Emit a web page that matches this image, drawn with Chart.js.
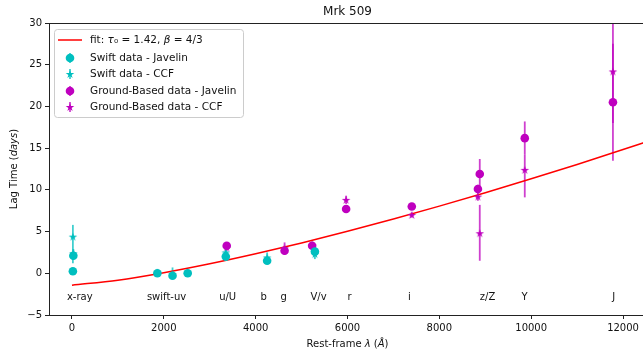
<!DOCTYPE html>
<html>
<head>
<meta charset="utf-8">
<script src="https://cdn.jsdelivr.net/npm/chart.js@4/dist/chart.umd.min.js"></script>
<style>
  html, body { margin: 0; padding: 0; overflow: hidden; background: #fff; }
  canvas { display: block; }
</style>
</head>
<body>
<canvas id="lag-chart" width="660" height="352"></canvas>
<script>
// Fit curve (lambda in Angstrom, lag in days)
const fitLambda = [0, 1000, 2000, 3000, 4000, 5000, 6000, 7000, 8000, 9000, 10000, 11000, 12000, 12500];
const fitLag = [-1.42, -0.83, 0.07, 1.14, 2.34, 3.64, 5.03, 6.5, 8.05, 9.66, 11.33, 13.05, 14.84, 15.75];

// Swift - Javelin (cyan circles)
const swJavX = [20, 30, 1860, 2190, 2520, 3350, 4250, 5290];
const swJavY = [0.25, 2.1, 0.0, -0.3, 0.0, 2.0, 1.5, 2.6];
const swJavLo = [0.3, 0.5, 0.3, 0.3, 0.3, 0.4, 0.4, 0.4];
const swJavHi = [0.3, 0.5, 0.3, 0.3, 0.3, 0.4, 0.4, 0.4];

// Swift - CCF (cyan stars)
const swCcfX = [20, 30, 1860, 2190, 2520, 3350, 4250, 5290];
const swCcfY = [4.4, 2.4, 0.1, -0.1, 0.1, 2.5, 1.9, 2.3];
const swCcfLo = [3.2, 0.5, 0.3, 0.4, 0.3, 0.5, 0.6, 0.6];
const swCcfHi = [1.4, 0.5, 0.3, 0.8, 0.3, 0.5, 0.6, 0.5];

// Ground-based - Javelin (magenta circles)
const gbJavX = [3370, 4630, 5230, 5970, 7400, 8840, 8880, 9860, 11780];
const gbJavY = [3.3, 2.7, 3.3, 7.7, 8.0, 10.1, 11.9, 16.2, 20.5];
const gbJavLo = [0.3, 0.5, 0.3, 0.3, 0.3, 0.5, 1.5, 2.0, 2.5];
const gbJavHi = [0.3, 0.5, 0.3, 0.3, 0.3, 0.5, 1.8, 2.0, 7.0];

// Ground-based - CCF (magenta stars)
const gbCcfX = [3370, 4630, 5230, 5970, 7400, 8840, 8880, 9860, 11780];
const gbCcfY = [3.1, 3.0, 3.4, 8.8, 7.0, 9.2, 4.8, 12.4, 24.2];
const gbCcfLo = [0.4, 0.7, 0.4, 0.5, 0.3, 0.5, 3.3, 3.3, 10.7];
const gbCcfHi = [0.4, 0.7, 0.4, 0.5, 0.3, 0.5, 3.4, 1.8, 9.0];

// Band names written along the bottom of the plot
const bandNames = ["x-ray", "swift-uv", "u/U", "b", "g", "V/v", "r", "i", "z/Z", "Y", "J"];
const bandX = [170, 2060, 3390, 4175, 4610, 5370, 6045, 7350, 9050, 9855, 11795];
const bandY = -2.9;

const xTicks = [0, 2000, 4000, 6000, 8000, 10000, 12000];

const CYAN = "#00bfbf";
const MAGENTA = "#bf00bf";
const CYAN_BAR = "rgba(0,191,191,0.75)";
const MAGENTA_BAR = "rgba(191,0,191,0.75)";
const FONT = '"DejaVu Sans", sans-serif';

function toPoints(xs, ys) {
  return xs.map((x, i) => ({ x, y: ys[i] }));
}

function makeStar(color) {
  const c = document.createElement("canvas");
  c.width = 12;
  c.height = 12;
  const g = c.getContext("2d");
  const R = 4.5, r = R * 0.382;
  g.beginPath();
  for (let k = 0; k < 10; k++) {
    const rad = k % 2 === 0 ? R : r;
    const a = -Math.PI / 2 + (k * Math.PI) / 5;
    const px = 6 + rad * Math.cos(a), py = 6.4 + rad * Math.sin(a);
    if (k === 0) g.moveTo(px, py); else g.lineTo(px, py);
  }
  g.closePath();
  g.fillStyle = color;
  g.fill();
  return c;
}
const cyanStar = makeStar(CYAN);
const magentaStar = makeStar(MAGENTA);

const errGroups = [
  { x: swJavX, y: swJavY, lo: swJavLo, hi: swJavHi, color: CYAN_BAR },
  { x: swCcfX, y: swCcfY, lo: swCcfLo, hi: swCcfHi, color: CYAN_BAR },
  { x: gbJavX, y: gbJavY, lo: gbJavLo, hi: gbJavHi, color: MAGENTA_BAR },
  { x: gbCcfX, y: gbCcfY, lo: gbCcfLo, hi: gbCcfHi, color: MAGENTA_BAR },
];

// draw text made of plain/italic parts, centred on (cx, cy)
function drawRich(ctx, parts, cx, cy, size) {
  let total = 0;
  parts.forEach((p) => {
    ctx.font = `${p.italic ? "italic " : ""}${size}px ${FONT}`;
    p.w = ctx.measureText(p.t).width;
    total += p.w;
  });
  let xx = cx - total / 2;
  ctx.textAlign = "left";
  ctx.textBaseline = "middle";
  parts.forEach((p) => {
    ctx.font = `${p.italic ? "italic " : ""}${size}px ${FONT}`;
    ctx.fillText(p.t, xx, cy);
    xx += p.w;
  });
}

const errorBars = {
  id: "errorBars",
  beforeDatasetsDraw(chart) {
    const { ctx, chartArea, scales } = chart;
    ctx.save();
    ctx.beginPath();
    ctx.rect(chartArea.left, chartArea.top, chartArea.right - chartArea.left, chartArea.bottom - chartArea.top);
    ctx.clip();
    ctx.lineWidth = 1.8;
    errGroups.forEach((g) => {
      ctx.strokeStyle = g.color;
      g.x.forEach((xv, i) => {
        const px = scales.x.getPixelForValue(xv);
        ctx.beginPath();
        ctx.moveTo(px, scales.y.getPixelForValue(g.y[i] - g.lo[i]));
        ctx.lineTo(px, scales.y.getPixelForValue(g.y[i] + g.hi[i]));
        ctx.stroke();
      });
    });
    ctx.restore();
  },
};

const decorations = {
  id: "decorations",
  afterDraw(chart) {
    const { ctx, chartArea, scales } = chart;
    ctx.save();
    // frame
    ctx.strokeStyle = "#222";
    ctx.lineWidth = 1;
    ctx.strokeRect(chartArea.left + 0.5, chartArea.top + 0.5, chartArea.right - chartArea.left, chartArea.bottom - chartArea.top);

    ctx.fillStyle = "#111";
    // band labels
    ctx.font = `10px ${FONT}`;
    ctx.textAlign = "center";
    ctx.textBaseline = "middle";
    bandNames.forEach((name, i) => {
      ctx.fillText(name, scales.x.getPixelForValue(bandX[i]), scales.y.getPixelForValue(bandY));
    });

    const midX = (chartArea.left + chartArea.right) / 2;
    // title
    ctx.font = `12px ${FONT}`;
    ctx.fillText("Mrk 509", midX, 12);
    // x label
    drawRich(ctx, [{ t: "Rest-frame " }, { t: "λ", italic: true }, { t: " (" }, { t: "Å", italic: true }, { t: ")" }], midX, 344, 10);
    // y label
    ctx.save();
    ctx.translate(14, (chartArea.top + chartArea.bottom) / 2);
    ctx.rotate(-Math.PI / 2);
    drawRich(ctx, [{ t: "Lag Time (" }, { t: "days", italic: true }, { t: ")" }], 0, 0, 10);
    ctx.restore();

    // legend
    const lx = 54, ly = 29, lw = 189, lh = 88;
    ctx.beginPath();
    ctx.roundRect(lx + 0.5, ly + 0.5, lw, lh, 3);
    ctx.fillStyle = "rgba(255,255,255,0.85)";
    ctx.fill();
    ctx.strokeStyle = "#cccccc";
    ctx.stroke();

    const rows = [40, 58, 74, 91, 107];
    ctx.strokeStyle = "#ff0000";
    ctx.lineWidth = 1.5;
    ctx.beginPath();
    ctx.moveTo(58, rows[0]);
    ctx.lineTo(82, rows[0]);
    ctx.stroke();

    const marks = [
      { color: CYAN, bar: CYAN_BAR, star: null },
      { color: CYAN, bar: CYAN_BAR, star: cyanStar },
      { color: MAGENTA, bar: MAGENTA_BAR, star: null },
      { color: MAGENTA, bar: MAGENTA_BAR, star: magentaStar },
    ];
    ctx.lineWidth = 1.8;
    marks.forEach((m, i) => {
      const yy = rows[i + 1];
      ctx.strokeStyle = m.bar;
      ctx.beginPath();
      ctx.moveTo(70, yy - 5);
      ctx.lineTo(70, yy + 5);
      ctx.stroke();
      if (m.star) {
        ctx.drawImage(m.star, 70 - 6, yy - 6);
      } else {
        ctx.fillStyle = m.color;
        ctx.beginPath();
        ctx.arc(70, yy, 4.3, 0, Math.PI * 2);
        ctx.fill();
      }
    });

    ctx.fillStyle = "#111";
    ctx.textAlign = "left";
    ctx.textBaseline = "middle";
    let tx = 90;
    const fitParts = [{ t: "fit: " }, { t: "τ", italic: true }, { t: "₀ = 1.42, " }, { t: "β", italic: true }, { t: " = 4/3" }];
    fitParts.forEach((p) => {
      ctx.font = `${p.italic ? "italic " : ""}10.5px ${FONT}`;
      ctx.fillText(p.t, tx, rows[0]);
      tx += ctx.measureText(p.t).width;
    });
    ctx.font = `10.5px ${FONT}`;
    ["Swift data - Javelin", "Swift data - CCF", "Ground-Based data - Javelin", "Ground-Based data - CCF"].forEach((t, i) => {
      ctx.fillText(t, 90, rows[i + 1]);
    });
    ctx.restore();
  },
};

new Chart(document.getElementById("lag-chart"), {
  type: "scatter",
  data: {
    datasets: [
      {
        label: "Swift data - Javelin",
        data: toPoints(swJavX, swJavY),
        pointStyle: "circle",
        pointRadius: 4.3,
        backgroundColor: CYAN,
        borderWidth: 0,
        order: 1,
      },
      {
        label: "Swift data - CCF",
        data: toPoints(swCcfX, swCcfY),
        pointStyle: cyanStar,
        backgroundColor: CYAN,
        order: 2,
      },
      {
        label: "Ground-Based data - Javelin",
        data: toPoints(gbJavX, gbJavY),
        pointStyle: "circle",
        pointRadius: 4.3,
        backgroundColor: MAGENTA,
        borderWidth: 0,
        order: 1,
      },
      {
        label: "Ground-Based data - CCF",
        data: toPoints(gbCcfX, gbCcfY),
        pointStyle: magentaStar,
        backgroundColor: MAGENTA,
        order: 2,
      },
      {
        type: "line",
        label: "fit",
        data: toPoints(fitLambda, fitLag),
        borderColor: "#ff0000",
        borderWidth: 1.5,
        pointRadius: 0,
        cubicInterpolationMode: "monotone",
        fill: false,
        order: 10,
      },
    ],
  },
  options: {
    responsive: false,
    animation: false,
    devicePixelRatio: 1,
    layout: { padding: { top: 23, right: 14, left: 0, bottom: 0 } },
    plugins: {
      legend: { display: false },
      title: { display: false },
      tooltip: { enabled: false },
    },
    scales: {
      x: {
        type: "linear",
        min: -500,
        max: 12500,
        afterBuildTicks: (scale) => {
          scale.ticks = xTicks.map((v) => ({ value: v }));
        },
        afterFit: (scale) => {
          scale.height = 37;
        },
        grid: { drawOnChartArea: false, drawTicks: true, tickLength: 4, color: "#222", tickColor: "#222" },
        border: { display: true, color: "#222" },
        ticks: {
          padding: 3,
          maxRotation: 0,
          color: "#111",
          font: { family: FONT, size: 10 },
          callback: (v) => String(v),
        },
      },
      y: {
        min: -5,
        max: 30,
        afterFit: (scale) => {
          scale.width = 49;
        },
        grid: { drawOnChartArea: false, drawTicks: true, tickLength: 4, color: "#222", tickColor: "#222" },
        border: { display: true, color: "#222" },
        ticks: {
          stepSize: 5,
          padding: 3,
          color: "#111",
          font: { family: FONT, size: 10 },
          callback: (v) => String(v).replace("-", "\u2212"),
        },
      },
    },
  },
  plugins: [errorBars, decorations],
});
</script>
</body>
</html>
